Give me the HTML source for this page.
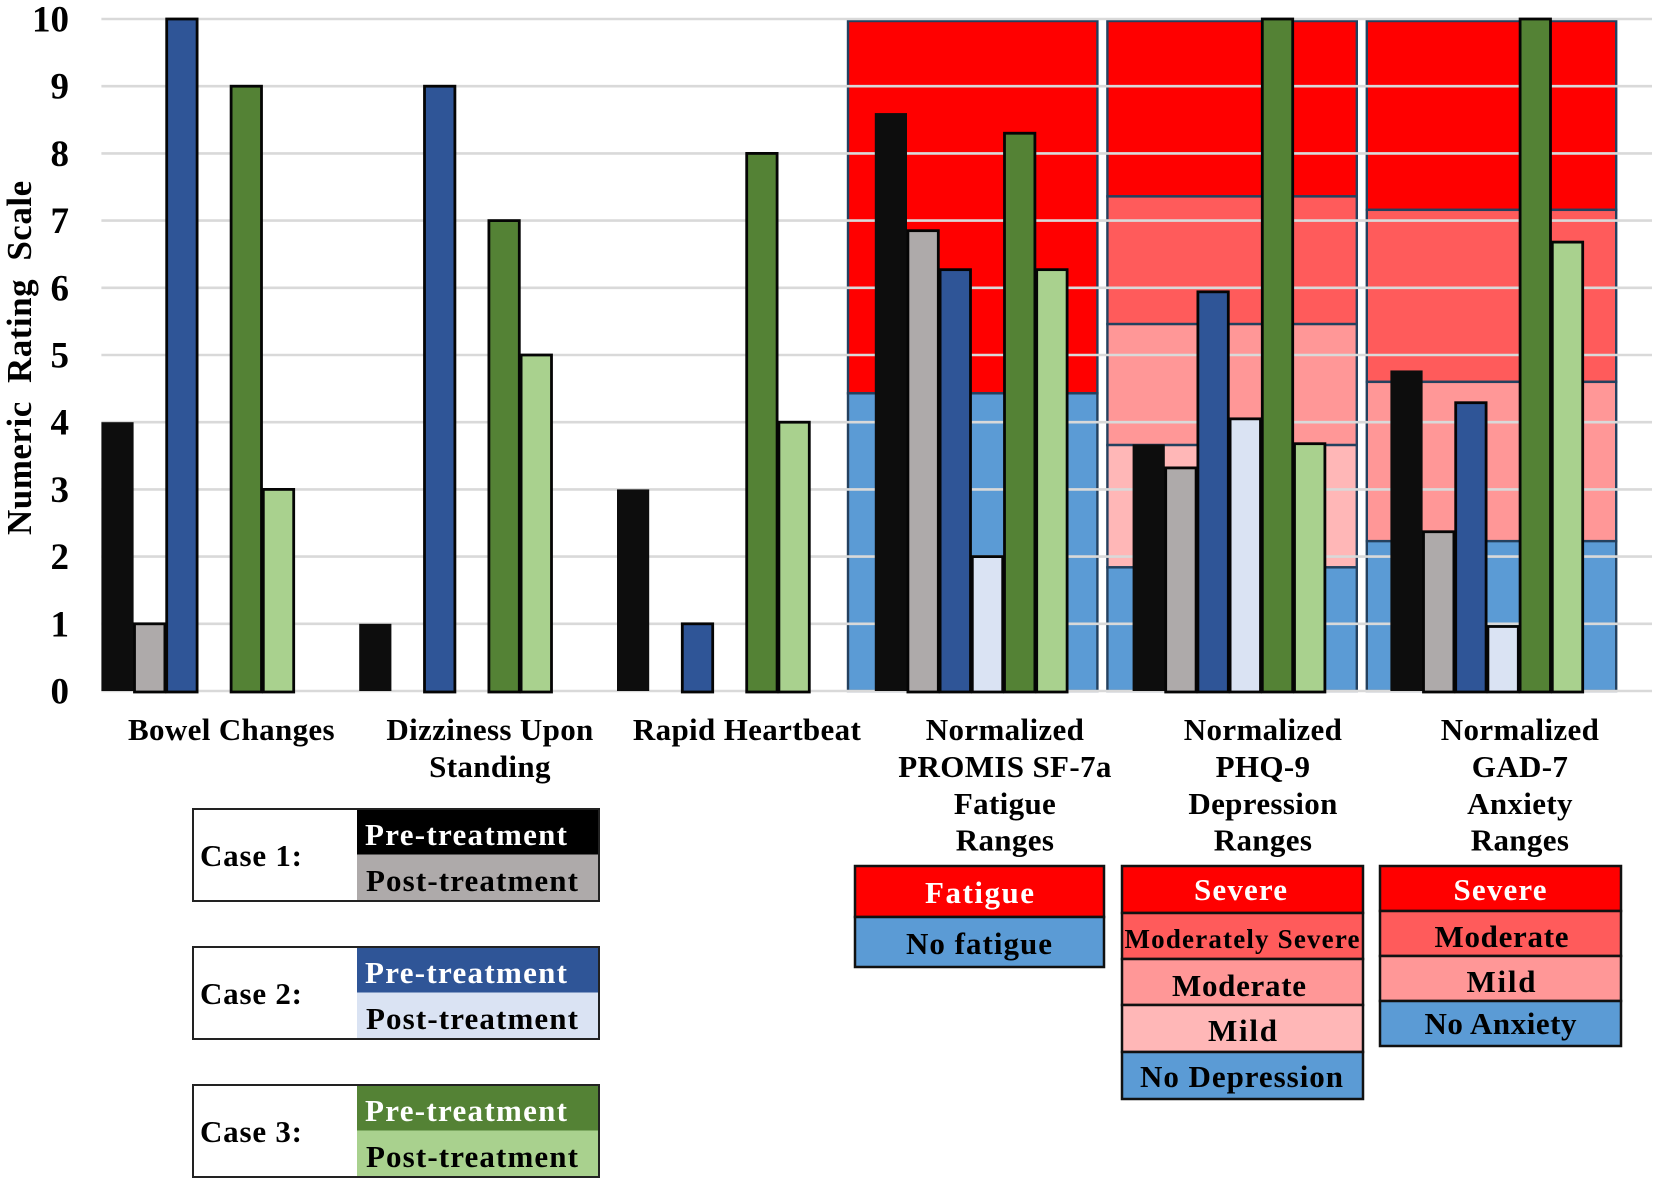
<!DOCTYPE html>
<html lang="en">
<head>
<meta charset="utf-8">
<title>Numeric Rating Scale by Case</title>
<style>
html,body{margin:0;padding:0;background:#fff}
svg{display:block}
text{font-family:"Liberation Serif",serif;font-weight:bold}
.lg{font-size:31px}
</style>
</head>
<body>
<svg id="chart" xmlns="http://www.w3.org/2000/svg" width="1654" height="1184" viewBox="0 0 1654 1184">
  <rect x="0" y="0" width="1654" height="1184" fill="#fff"/>
  <g id="plot"></g>

  <g>
    <rect x="193" y="809" width="406" height="92" fill="#fff"/>
    <rect x="357" y="809" width="242" height="45.5" fill="#000"/>
    <rect x="357" y="854.5" width="242" height="46.5" fill="#aeaaaa"/>
    <rect x="193" y="809" width="406" height="92" fill="none" stroke="#222" stroke-width="2"/>
    <text class="lg" x="200" y="866" textLength="102" lengthAdjust="spacing" fill="#000">Case 1:</text>
    <text class="lg" x="365" y="845" textLength="202" lengthAdjust="spacing" fill="#fff">Pre-treatment</text>
    <text class="lg" x="366" y="891" textLength="212" lengthAdjust="spacing" fill="#000">Post-treatment</text>
  </g>
  <g>
    <rect x="193" y="947" width="406" height="92" fill="#fff"/>
    <rect x="357" y="947" width="242" height="45.5" fill="#2f5597"/>
    <rect x="357" y="992.5" width="242" height="46.5" fill="#dae3f3"/>
    <rect x="193" y="947" width="406" height="92" fill="none" stroke="#222" stroke-width="2"/>
    <text class="lg" x="200" y="1004" textLength="102" lengthAdjust="spacing" fill="#000">Case 2:</text>
    <text class="lg" x="365" y="983" textLength="202" lengthAdjust="spacing" fill="#fff">Pre-treatment</text>
    <text class="lg" x="366" y="1029" textLength="212" lengthAdjust="spacing" fill="#000">Post-treatment</text>
  </g>
  <g>
    <rect x="193" y="1085" width="406" height="92" fill="#fff"/>
    <rect x="357" y="1085" width="242" height="45.5" fill="#548235"/>
    <rect x="357" y="1130.5" width="242" height="46.5" fill="#a9d18e"/>
    <rect x="193" y="1085" width="406" height="92" fill="none" stroke="#222" stroke-width="2"/>
    <text class="lg" x="200" y="1142" textLength="102" lengthAdjust="spacing" fill="#000">Case 3:</text>
    <text class="lg" x="365" y="1121" textLength="202" lengthAdjust="spacing" fill="#fff">Pre-treatment</text>
    <text class="lg" x="366" y="1167" textLength="212" lengthAdjust="spacing" fill="#000">Post-treatment</text>
  </g>

  <g stroke-width="0">
    <rect x="855" y="866" width="249" height="51" fill="#ff0000" stroke="#111" stroke-width="2.5"/>
    <rect x="855" y="917" width="249" height="50" fill="#5b9bd5" stroke="#111" stroke-width="2.5"/>
    <text class="lg" x="925" y="903" textLength="109" lengthAdjust="spacing" fill="#fff">Fatigue</text>
    <text class="lg" x="906" y="954" textLength="146" lengthAdjust="spacing" fill="#000">No fatigue</text>
  </g>
  <g>
    <rect x="1122" y="866" width="241" height="47" fill="#ff0000" stroke="#111" stroke-width="2.5"/>
    <rect x="1122" y="913" width="241" height="46" fill="#ff5b5b" stroke="#111" stroke-width="2.5"/>
    <rect x="1122" y="959" width="241" height="46" fill="#ff9797" stroke="#111" stroke-width="2.5"/>
    <rect x="1122" y="1005" width="241" height="47" fill="#ffb7b7" stroke="#111" stroke-width="2.5"/>
    <rect x="1122" y="1052" width="241" height="47" fill="#5b9bd5" stroke="#111" stroke-width="2.5"/>
    <text class="lg" x="1194" y="900" textLength="93" lengthAdjust="spacing" fill="#fff">Severe</text>
    <text x="1124.5" y="948" font-size="27" textLength="235" lengthAdjust="spacing" fill="#000">Moderately Severe</text>
    <text class="lg" x="1172" y="996" textLength="134" lengthAdjust="spacing" fill="#000">Moderate</text>
    <text class="lg" x="1208" y="1041" textLength="69" lengthAdjust="spacing" fill="#000">Mild</text>
    <text class="lg" x="1140" y="1087" textLength="203" lengthAdjust="spacing" fill="#000">No Depression</text>
  </g>
  <g>
    <rect x="1380" y="866" width="241" height="45" fill="#ff0000" stroke="#111" stroke-width="2.5"/>
    <rect x="1380" y="911" width="241" height="45" fill="#ff5b5b" stroke="#111" stroke-width="2.5"/>
    <rect x="1380" y="956" width="241" height="45" fill="#ff9797" stroke="#111" stroke-width="2.5"/>
    <rect x="1380" y="1001" width="241" height="45" fill="#5b9bd5" stroke="#111" stroke-width="2.5"/>
    <text class="lg" x="1453.5" y="900" textLength="93" lengthAdjust="spacing" fill="#fff">Severe</text>
    <text class="lg" x="1434.5" y="947" textLength="134" lengthAdjust="spacing" fill="#000">Moderate</text>
    <text class="lg" x="1466.5" y="992" textLength="69" lengthAdjust="spacing" fill="#000">Mild</text>
    <text class="lg" x="1424.5" y="1034" textLength="152" lengthAdjust="spacing" fill="#000">No Anxiety</text>
  </g>
</svg>
<script>
var categories = [
  ["Bowel Changes"],
  ["Dizziness Upon", "Standing"],
  ["Rapid Heartbeat"],
  ["Normalized", "PROMIS SF-7a", "Fatigue", "Ranges"],
  ["Normalized", "PHQ-9", "Depression", "Ranges"],
  ["Normalized", "GAD-7", "Anxiety", "Ranges"]
];
var tickLabels = [0, 1, 2, 3, 4, 5, 6, 7, 8, 9, 10];
var case1Pre  = [4, 1, 3, 8.6, 3.67, 4.77];
var case1Post = [1, null, null, 6.85, 3.32, 2.37];
var case2Pre  = [10, 9, 1, 6.27, 5.94, 4.29];
var case2Post = [null, null, null, 2.0, 4.05, 0.96];
var case3Pre  = [9, 7, 8, 8.3, 10, 10];
var case3Post = [3, 5, 4, 6.27, 3.68, 6.68];
var fatigueBandTops = [10, 4.43];
var depressionBandTops = [10, 7.36, 5.46, 3.66, 1.84];
var anxietyBandTops = [10, 7.16, 4.6, 2.23];

var NS = "http://www.w3.org/2000/svg";
var plot = document.getElementById("plot");
var Y0 = 691, UNIT = 67.2, X0 = 101.4, STEP = 257.8, SLOT = 32.2;
function yScale(v) { return Y0 - v * UNIT; }
function xScale(cat, slot) { return X0 + cat * STEP + slot * SLOT; }
function panelX(i) { return 848 + i * 259.4; }
function make(tag, attrs) {
  var el = document.createElementNS(NS, tag);
  for (var k in attrs) el.setAttribute(k, attrs[k]);
  plot.appendChild(el);
  return el;
}

var bandFills = {
  2: ["#ff0000", "#5b9bd5"],
  4: ["#ff0000", "#ff5b5b", "#ff9797", "#5b9bd5"],
  5: ["#ff0000", "#ff5b5b", "#ff9797", "#ffb7b7", "#5b9bd5"]
};
var panels = [
  { name: "fatigue", tops: fatigueBandTops },
  { name: "depression", tops: depressionBandTops },
  { name: "anxiety", tops: anxietyBandTops }
];
panels.forEach(function (p, n) {
  var fills = bandFills[p.tops.length];
  p.tops.forEach(function (top, i) {
    var bottom = i + 1 < p.tops.length ? p.tops[i + 1] : 0;
    var yTop = i === 0 ? yScale(top) + 2 : yScale(top);
    var band = make("rect", {
      x: panelX(n),
      y: yTop,
      width: 249.4,
      height: yScale(bottom) - yTop,
      fill: fills[i],
      stroke: "#24415f",
      "stroke-width": 2.4
    });
    
    
  });
});

tickLabels.forEach(function (t) {
  var line = make("line", {
    x1: X0, x2: 1652, y1: yScale(t), y2: yScale(t),
    stroke: "#d9d9d9", "stroke-width": 2.6
  });
  
  
  var label = make("text", {
    x: 69, y: yScale(t) + 12.5, "text-anchor": "end", "font-size": 37, fill: "#000"
  });
  label.textContent = String(t);
  
  
});

var seriesList = [
  { name: "case-1-pre", values: case1Pre, fill: "#0d0d0d", outline: false },
  { name: "case-1-post", values: case1Post, fill: "#aeaaaa", outline: true },
  { name: "case-2-pre", values: case2Pre, fill: "#2f5597", outline: true },
  { name: "case-2-post", values: case2Post, fill: "#dae3f3", outline: true },
  { name: "case-3-pre", values: case3Pre, fill: "#548235", outline: true },
  { name: "case-3-post", values: case3Post, fill: "#a9d18e", outline: true }
];
seriesList.forEach(function (s, slot) {
  s.values.forEach(function (v, cat) {
    if (v === null) return;
    var inset = s.outline ? 0.9 : 0;
    var bar = make("rect", {
      x: xScale(cat, slot) + inset,
      y: yScale(v),
      width: SLOT - inset * 2,
      height: yScale(0) - yScale(v) + (s.outline ? 1 : 0),
      fill: s.fill,
      stroke: s.outline ? "#050505" : "none",
      "stroke-width": 2.8
    });
    
    
  });
});

var labelCenters = [231.5, 490, 747, 1005, 1263, 1520];
categories.forEach(function (lines, cat) {
  lines.forEach(function (line, i) {
    var t = make("text", {
      x: labelCenters[cat],
      y: 740 + i * 36.9,
      "text-anchor": "middle",
      "font-size": 31,
      "letter-spacing": 0.35,
      fill: "#000"
    });
    t.textContent = line;
    
    
  });
});

var yTitle = make("text", {
  transform: "translate(31,535) rotate(-90)",
  "font-size": 35,
  "letter-spacing": 0.5,
  "word-spacing": 9,
  fill: "#000"
});
yTitle.textContent = "Numeric Rating Scale";


</script>
</body>
</html>
